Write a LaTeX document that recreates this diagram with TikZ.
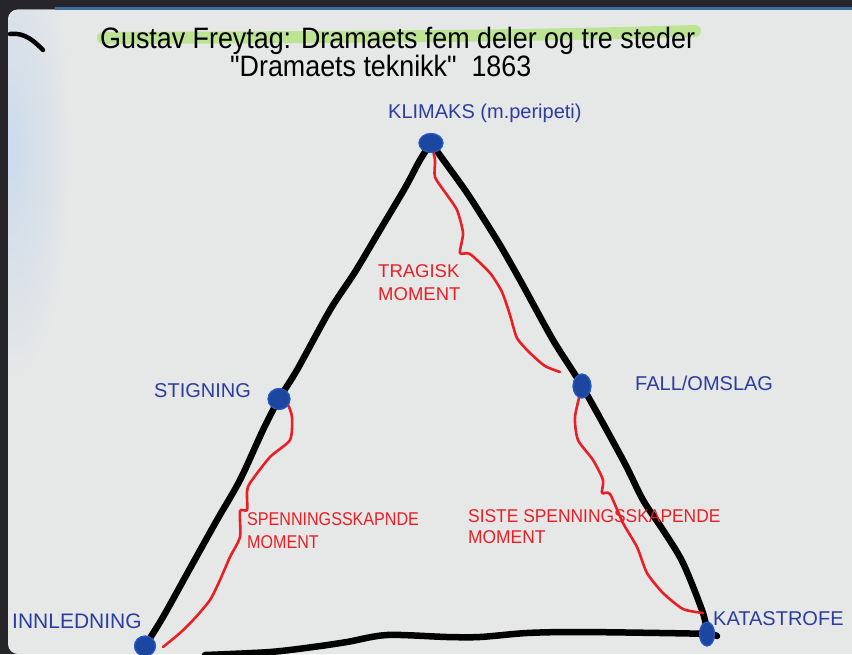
\documentclass[tikz,border=0pt]{standalone}
\usepackage{fontspec}
\setmainfont{Liberation Sans}
\usetikzlibrary{shapes.geometric}
\definecolor{bg}{RGB}{230,231,231}
\definecolor{lblue}{RGB}{44,62,158}
\definecolor{dotblue}{RGB}{28,70,160}
\definecolor{rimblue}{RGB}{40,95,195}
\definecolor{dred}{RGB}{232,32,38}
\definecolor{hl}{RGB}{185,228,140}
\definecolor{framedark}{RGB}{38,38,42}
\definecolor{frameblue}{RGB}{62,110,160}
\definecolor{glow}{RGB}{204,219,235}
\newcommand{\straightquote}{\XeTeXglyph\XeTeXglyphindex "quotedbl"\relax}
\begin{document}
\begin{tikzpicture}[x=1pt,y=-1pt,
  blab/.style={text=lblue, font=\fontsize{20}{24}\selectfont, anchor=base west, inner sep=0pt},
  rlab/.style={text=dred, font=\fontsize{18.5}{23}\selectfont, anchor=base west, inner sep=0pt, align=left},
  ttl/.style={text=black, font=\fontsize{29.5}{34}\selectfont, anchor=base west, inner sep=0pt},
  vdot/.style={ellipse, fill=dotblue, draw=rimblue, line width=1pt, inner sep=0pt},
  blackline/.style={black, line width=6.5pt, line cap=round, line join=round},
  redline/.style={dred, line width=2.6pt, line cap=round, line join=round}]
\useasboundingbox (0,0) rectangle (852,654);
% frame and panel
\fill[framedark] (0,0) rectangle (852,654);
\fill[bg] (8,9.5) [rounded corners=10pt] -- (8,654) [sharp corners] -- (852,654) -- (852,9.5) [rounded corners=10pt] -- cycle;
\begin{scope}
  \clip (8,9.5) [rounded corners=10pt] -- (8,654) [sharp corners] -- (852,654) -- (852,9.5) [rounded corners=10pt] -- cycle;
  \shade[inner color=glow, outer color=bg] (12,150) ellipse (60 and 230);
\end{scope}
\fill[frameblue] (55,7) rectangle (852,9.5);
% scribble at top left
\draw[black, line width=4.5pt, line cap=round] (10,34) .. controls (25,32) and (35,42) .. (43,50);
% title highlight and texts
\draw[hl, line width=12pt, line cap=round, opacity=0.9] (103,38) .. controls (300,37) and (500,37) .. (695,31);
\node[ttl] (title) at (100,48) {\scalebox{0.91}[1]{Gustav Freytag: Dramaets fem deler og tre steder}};
\node[ttl] (subtitle) at (230,76) {\scalebox{0.91}[1]{\straightquote Dramaets teknikk\straightquote\ \ 1863}};
% vertex dots
\node[vdot, minimum width=24pt, minimum height=19pt] (klim) at (431,143) {};
\node[vdot, minimum width=22pt, minimum height=21pt] (stig) at (279,399) {};
\node[vdot, minimum width=18pt, minimum height=24pt] (fall) at (582,386) {};
\node[vdot, minimum width=21pt, minimum height=20pt] (inn) at (145,646) {};
\node[vdot, minimum width=15pt, minimum height=24pt] (kat) at (707,634) {};
\coordinate (bstart) at (205,655);
\coordinate (bend) at (717,636);
% black triangle
\draw[blackline] plot[smooth, tension=0.5] coordinates {(inn.center) (157,627) (167,610) (193,563) (217,520) (240,480) (263,430) (stig.center) (297,370) (330,310) (355,272) (380,230) (405,188) (420,160) (klim.center)};
\draw[blackline] plot[smooth, tension=0.5] coordinates {(klim.center) (447,165) (465,190) (480,213) (500,245) (520,280) (553,340) (fall.center) (623,460) (643,500) (663,530) (683,563) (703,613) (kat.center)};
\draw[blackline] plot[smooth, tension=0.5] coordinates {(bstart) (270,652) (313,647) (347,642) (387,635) (447,637) (480,637) (527,633) (577,632) (660,633) (kat.center) (bend)};
% red lines
\draw[redline] plot[smooth, tension=0.4] coordinates {(klim.center) (435,160) (435,177) (447,195) (457,210) (463,233) (460,253) (470,254) (490,273) (502,292) (510,315) (517,338) (530,353) (545,366) (560,372)};
\draw[redline] plot[smooth, tension=0.4] coordinates {(fall.center) (575,417) (578,440) (593,460) (603,480) (602,493) (610,494) (623,523) (637,547) (647,573) (663,593) (683,609) (703,613)};
\draw[redline] plot[smooth, tension=0.4] coordinates {(stig.center) (287,403) (292,417) (290,440) (270,457) (250,483) (247,492) (247,510) (240,511) (240,537) (230,557) (220,580) (210,600) (195,618) (180,633) (163,647)};
% redraw dots on top
\node[vdot, minimum width=24pt, minimum height=19pt] at (klim) {};
\node[vdot, minimum width=22pt, minimum height=21pt] at (stig) {};
\node[vdot, minimum width=18pt, minimum height=24pt] at (fall) {};
\node[vdot, minimum width=21pt, minimum height=20pt] at (inn) {};
\node[vdot, minimum width=15pt, minimum height=24pt] at (kat) {};
% blue labels
\node[blab] (lklim) at (388,118) {KLIMAKS (m.peripeti)};
\node[blab] (lstig) at (154,397) {STIGNING};
\node[blab] (lfall) at (635,390) {FALL/OMSLAG};
\node[blab] (linn) at (12,628) {\scalebox{1.05}{INNLEDNING}};
\node[blab] (lkat) at (713,625) {KATASTROFE};
% red labels (anchor = baseline of last line)
\node[rlab] (ltrag) at (378,300) {TRAGISK\\MOMENT};
\node[rlab] (lspen) at (247,548) {\scalebox{0.87}[1]{SPENNINGSSKAPNDE}\\\scalebox{0.87}[1]{MOMENT}};
\node[rlab] (lsiste) at (468,543) {\scalebox{0.94}[1]{SISTE SPENNINGSSKAPENDE}\\[-2pt]\scalebox{0.94}[1]{MOMENT}};
\end{tikzpicture}
\end{document}
